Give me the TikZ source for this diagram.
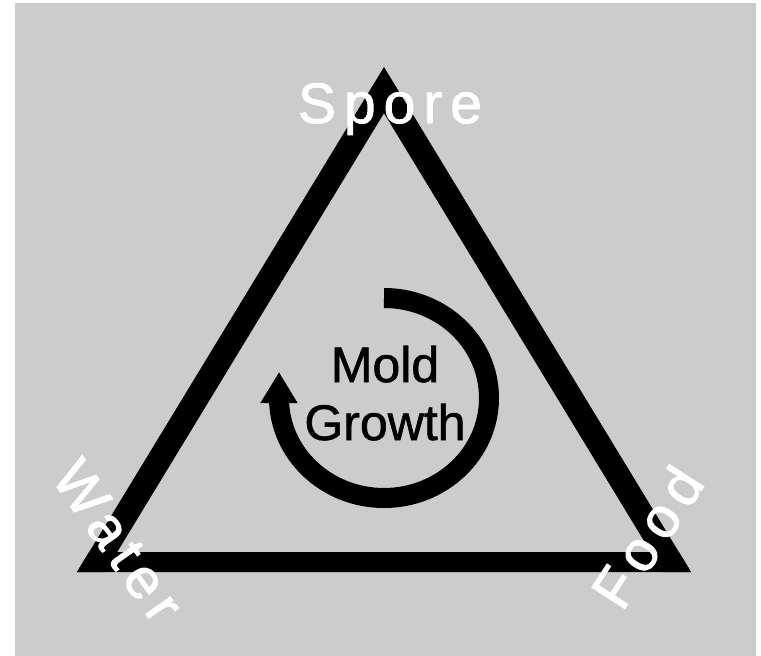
\documentclass[tikz,border=0pt]{standalone}
\usepackage{fontspec}
\setmainfont{Liberation Sans}
\newfontfamily\labelfont[LetterSpace=14, FakeBold=1.6]{Liberation Sans}
\newfontfamily\insidefont[FakeBold=1.2]{Liberation Sans}
\usepackage{tikz}
\usetikzlibrary{arrows.meta, positioning}
\definecolor{moldgray}{RGB}{204, 204, 204}

\begin{document}
\begin{tikzpicture}[
        x=1pt, y=-1pt,
        corner/.style={text=white, font=\labelfont\fontsize{57}{60}\selectfont, inner sep=0pt},
        growthtext/.style={font=\insidefont\fontsize{50}{58}\selectfont, inner sep=0pt, anchor=base},
        side/.style={line width=48pt, line join=miter},
        bottomside/.style={line width=40pt},
        looparrow/.style={line width=20pt, -{Triangle[length=31pt, width=35pt]}}
    ]
    % page and grey card
    \useasboundingbox (0,0) rectangle (761,656);
    \fill[moldgray] (15,3) rectangle (756,656);

    % triangle
    \coordinate (water-pt) at (77,572);
    \coordinate (food-pt) at (691,572);
    \coordinate (spore-pt) at (384,67);
    \begin{scope}
        \clip (water-pt) -- (food-pt) -- (spore-pt) -- cycle;
        \draw[side] (water-pt) -- (spore-pt) -- (food-pt);
        \draw[bottomside] (water-pt) -- (food-pt);
    \end{scope}

    % growth cycle
    \coordinate (loop-c) at (384,398);
    \draw[looparrow] (loop-c) ++(0,-100)
        arc[start angle=90, end angle=-180, x radius=105pt, y radius=100pt]
        -- ++(0,-26);

    % labels
    \node[corner, anchor=base] (spore) at (390,123) {Spore};
    \node[corner, rotate=-55] (water) at (118,541) {Water};
    \node[corner, rotate=57] (food) at (647,537) {Food};
    \node[growthtext] (mold) at (385,382) {Mold};
    \node[growthtext] (growth) at (385,440) {Growth};
\end{tikzpicture}
\end{document}
